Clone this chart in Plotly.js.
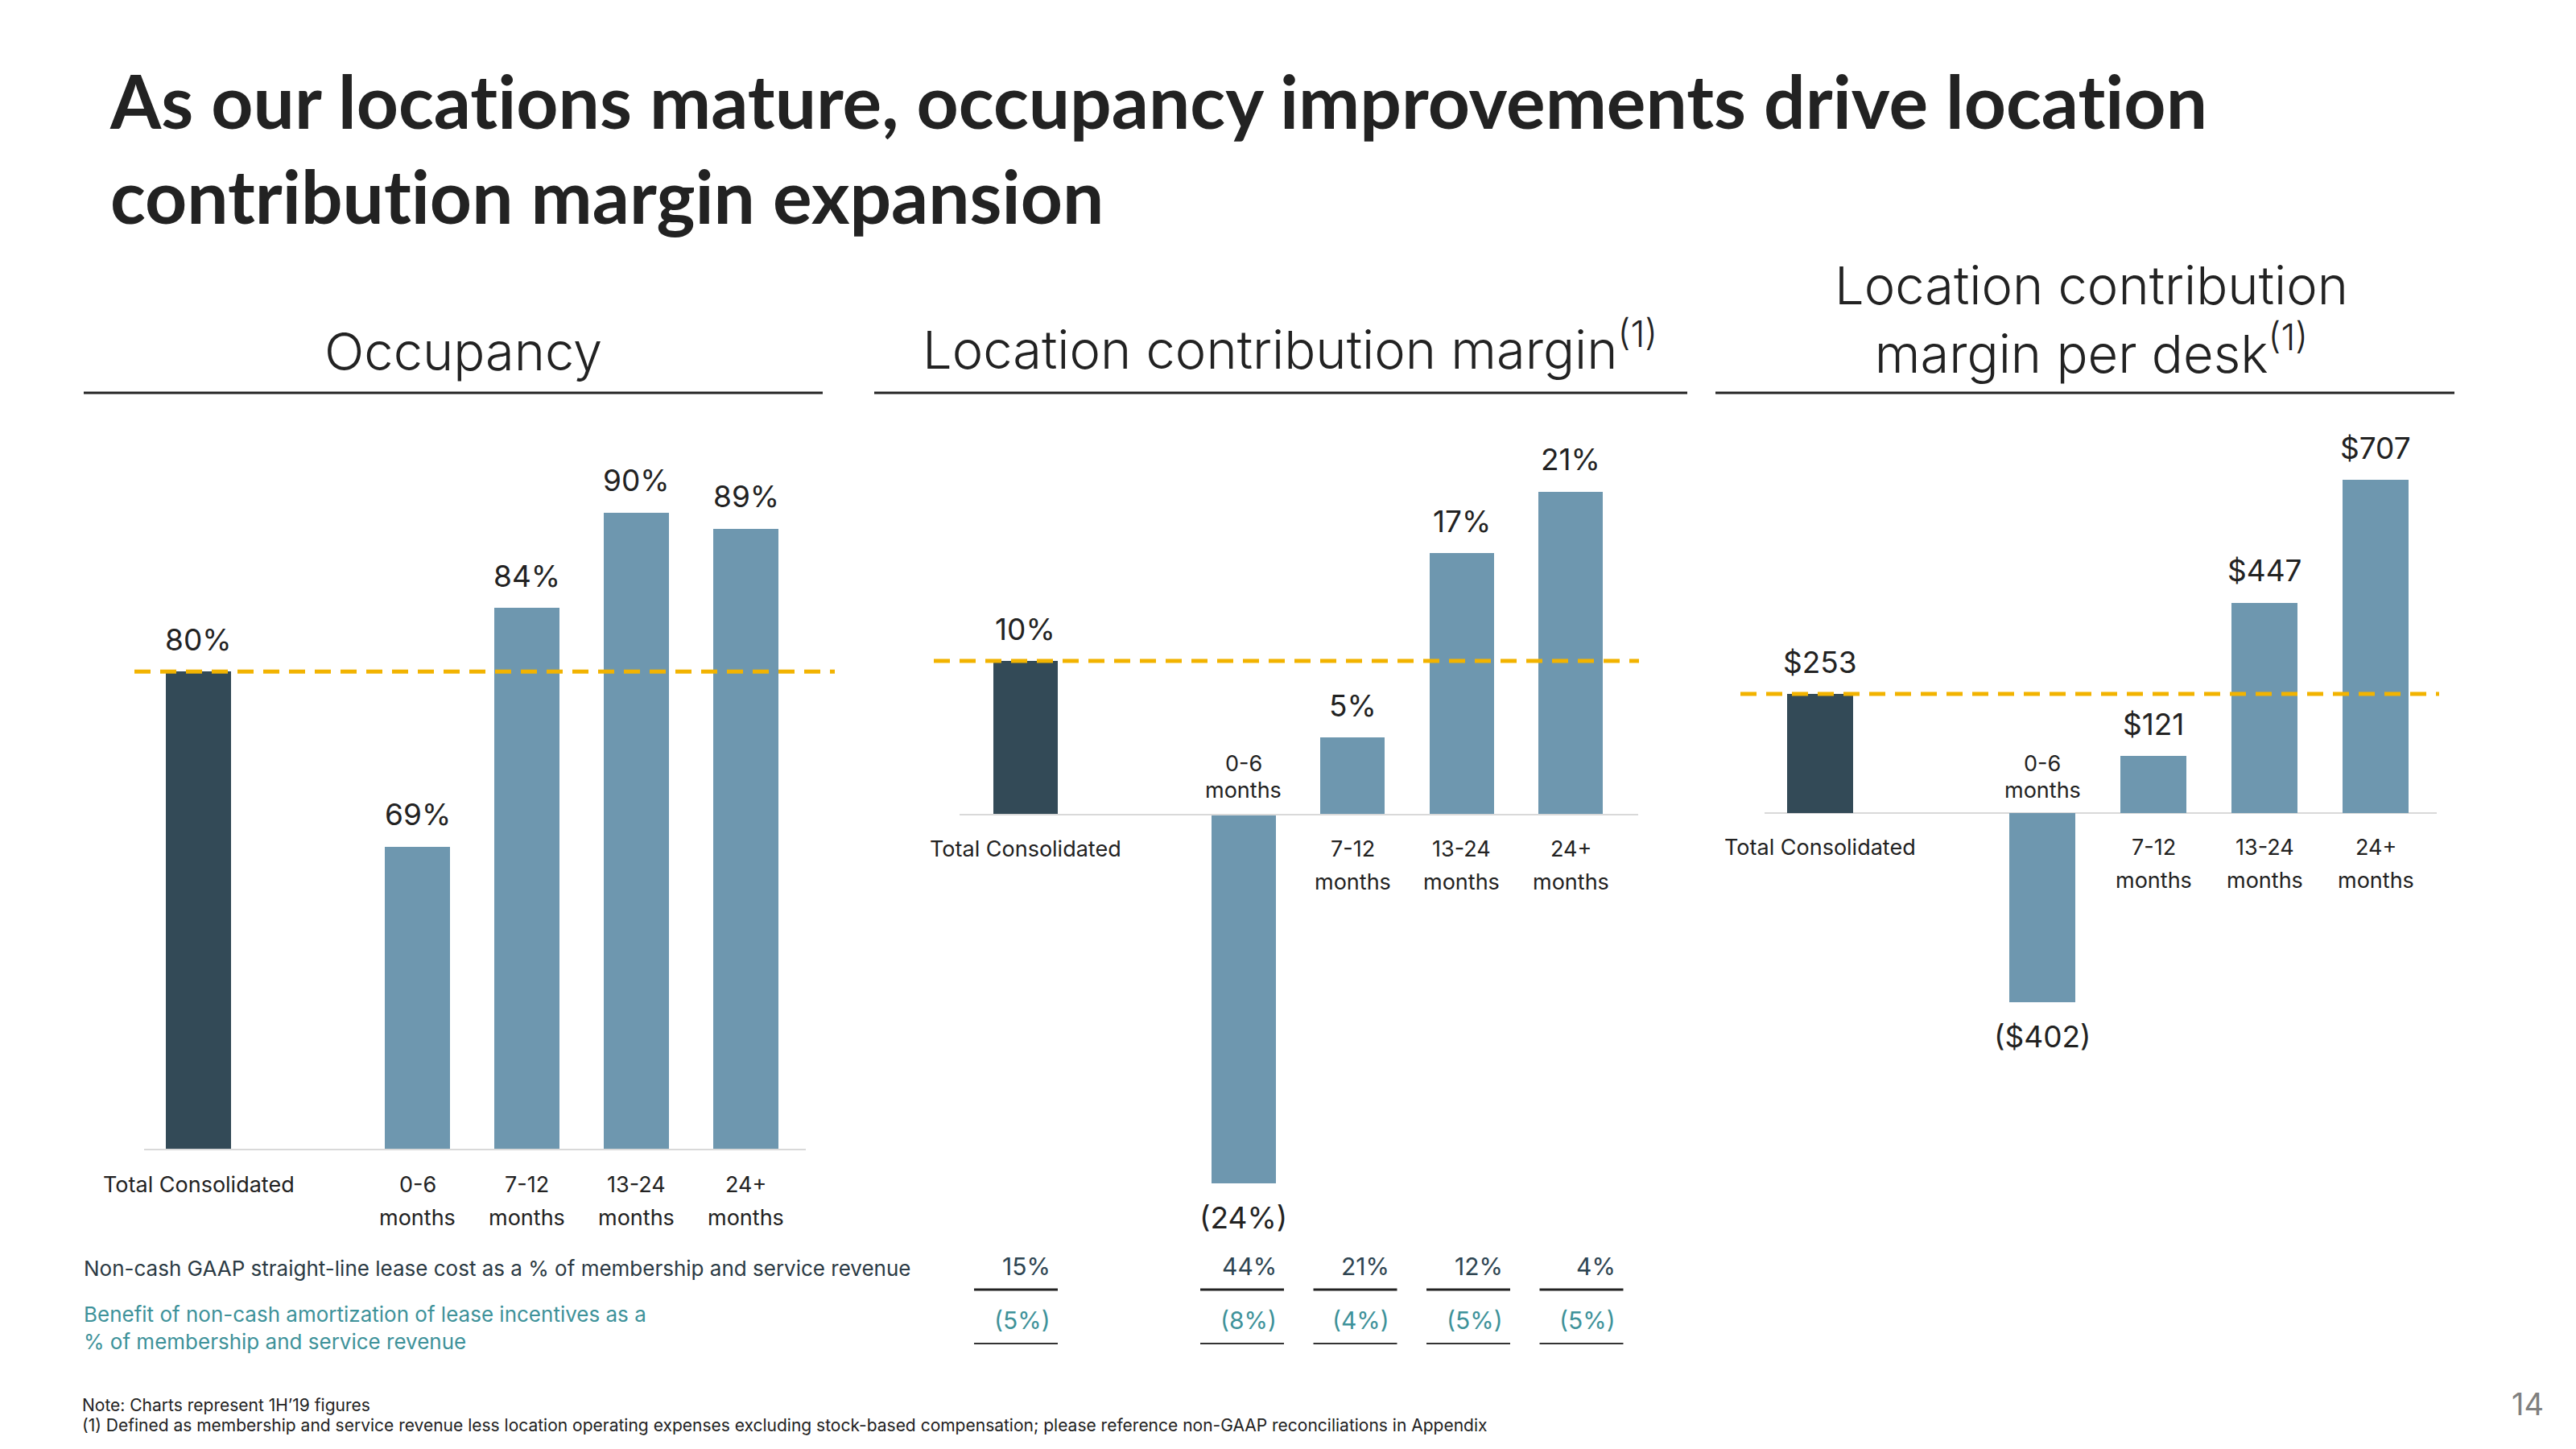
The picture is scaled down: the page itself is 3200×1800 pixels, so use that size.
<!DOCTYPE html>
<html><head><meta charset="utf-8">
<script src="https://cdn.plot.ly/plotly-3.0.1.min.js"></script>
<style>html,body{margin:0;padding:0;background:#fff}#chart{width:3200px;height:1800px}
svg text{font-variant-ligatures:none;font-feature-settings:"liga" 0,"clig" 0;}</style>
</head><body><div id="chart"></div>
<script>
// ---------------- data ----------------
const categories = ['Total Consolidated', '0-6 months', '7-12 months', '13-24 months', '24+ months'];
const tickLine1 = ['Total Consolidated', '0-6', '7-12', '13-24', '24+'];
const tickLine2 = ['', 'months', 'months', 'months', 'months'];
const occupancy = [80, 69, 84, 90, 89];            // %
const contributionMargin = [10, -24, 5, 17, 21];   // %
const marginPerDesk = [253, -402, 121, 447, 707];  // $
const leaseCostPct = [15, 44, 21, 12, 4];          // % of membership and service revenue
const leaseBenefitPct = [-5, -8, -4, -5, -5];      // %
const chartTitles = ['Occupancy', 'Location contribution margin<sup>(1)</sup>', 'Location contribution<br>margin per desk<sup>(1)</sup>'];
const mainTitle = 'As our locations mature, occupancy improvements drive location<br>contribution margin expansion';
const rowLabel1 = 'Non-cash GAAP straight-line lease cost as a % of membership and service revenue';
const rowLabel2 = 'Benefit of non-cash amortization of lease incentives as a<br>% of membership and service revenue';
const footNote1 = 'Note: Charts represent 1H\u201919 figures';
const footNote2 = '(1) Defined as membership and service revenue less location operating expenses excluding stock-based compensation; please reference non-GAAP reconciliations in Appendix';
const pageNumber = '14';

// ---------------- helpers ----------------
const W = 3200, H = 1800;
const fx = p => p / W, fy = p => 1 - p / H;
const slotPos = categories.map((c, i) => i === 0 ? 0 : i + 1);
const DARK = '#334A57', LIGHT = '#6E97AF', GOLD = '#F2B300', TEAL = '#3E929A', INK = '#222222';
const colors = categories.map((c, i) => i === 0 ? DARK : LIGHT);
const pct = v => v < 0 ? `(${Math.abs(v)}%)` : `${v}%`;
const usd = v => v < 0 ? `($${Math.abs(v)})` : `$${v}`;
const FONT = 'Inter, Lato, sans-serif';

function barTrace(vals, xa, ya) {
  return {type: 'bar', x: slotPos, y: vals, xaxis: xa, yaxis: ya, width: 0.59,
    marker: {color: colors, line: {width: 0}}, hoverinfo: 'skip', showlegend: false};
}
const data = [
  barTrace(occupancy, 'x', 'y'),
  barTrace(contributionMargin, 'x2', 'y2'),
  barTrace(marginPerDesk, 'x3', 'y3')
];

const ann = [];
function valueLabels(vals, fmt, xa, ya) {
  vals.forEach((v, i) => ann.push({xref: xa, yref: ya, x: slotPos[i], y: v, text: fmt(v), showarrow: false,
    yanchor: 'middle', yshift: v >= 0 ? 40 : -42, font: {family: FONT, size: 37, color: INK}}));
}
valueLabels(occupancy, pct, 'x', 'y');
valueLabels(contributionMargin, pct, 'x2', 'y2');
valueLabels(marginPerDesk, usd, 'x3', 'y3');

function tickLabels(vals, xa, ya, yval, down1, down2, up1, up2) {
  vals.forEach((v, i) => {
    const neg = v < 0;
    ann.push({xref: xa, yref: ya, x: slotPos[i], y: yval, text: tickLine1[i], showarrow: false, yanchor: 'middle',
      yshift: neg ? up1 : -down1, font: {family: FONT, size: 27, color: INK}});
    if (tickLine2[i]) ann.push({xref: xa, yref: ya, x: slotPos[i], y: yval, text: tickLine2[i], showarrow: false, yanchor: 'middle',
      yshift: neg ? up2 : -down2, font: {family: FONT, size: 27, color: INK}});
  });
}
tickLabels(occupancy, 'x', 'y domain', 0, 44, 85, 0, 0);
tickLabels(contributionMargin, 'x2', 'y2', 0, 42, 83, 64, 31);
tickLabels(marginPerDesk, 'x3', 'y3', 0, 42, 83, 62, 29);

// chart titles
const titlePos = [[575, 436], [1602, 430], [2598, 397]];
chartTitles.forEach((t, i) => ann.push({xref: 'paper', yref: 'paper', x: fx(titlePos[i][0]), y: fy(titlePos[i][1]),
  text: t, showarrow: false, xanchor: 'center', yanchor: 'middle', font: {family: FONT, size: 65, color: INK, weight: 300}}));

// table rows
ann.push({xref: 'paper', yref: 'paper', x: fx(102), y: fy(1575), text: rowLabel1, showarrow: false, xanchor: 'left', yanchor: 'middle',
  font: {family: FONT, size: 26, color: '#2B3A44'}});
ann.push({xref: 'paper', yref: 'paper', x: fx(102), y: fy(1649), text: rowLabel2, showarrow: false, xanchor: 'left', yanchor: 'middle', align: 'left',
  font: {family: FONT, size: 26, color: TEAL}});
leaseCostPct.forEach((v, i) => ann.push({xref: 'x4', yref: 'paper', x: slotPos[i] + 0.32, y: fy(1573), text: pct(v), showarrow: false,
  xanchor: 'right', yanchor: 'middle', font: {family: FONT, size: 30, color: '#2E4552'}}));
leaseBenefitPct.forEach((v, i) => ann.push({xref: 'x4', yref: 'paper', x: slotPos[i] + 0.32, y: fy(1640), text: pct(v), showarrow: false,
  xanchor: 'right', yanchor: 'middle', font: {family: FONT, size: 30, color: TEAL}}));

// main title & notes
ann.push({xref: 'paper', yref: 'paper', x: fx(134), y: fy(68), text: mainTitle, showarrow: false, xanchor: 'left', yanchor: 'top', align: 'left',
  font: {family: 'Lato, sans-serif', size: 91, color: INK, weight: 700}});
ann.push({xref: 'paper', yref: 'paper', x: fx(100), y: fy(1745), text: footNote1, showarrow: false, xanchor: 'left', yanchor: 'middle',
  font: {family: FONT, size: 21, color: INK}});
ann.push({xref: 'paper', yref: 'paper', x: fx(100), y: fy(1770), text: footNote2, showarrow: false, xanchor: 'left', yanchor: 'middle',
  font: {family: FONT, size: 21, color: INK}});
ann.push({xref: 'paper', yref: 'paper', x: fx(3140), y: fy(1744), text: pageNumber, showarrow: false, xanchor: 'center', yanchor: 'middle',
  font: {family: FONT, size: 38, color: '#808080'}});

// shapes
const shapes = [];
[[104, 1022], [1086, 2096], [2131, 3049]].forEach(r => shapes.push({type: 'line', xref: 'paper', yref: 'paper',
  x0: fx(r[0]), x1: fx(r[1]), y0: fy(488), y1: fy(488), line: {color: INK, width: 3}}));
const dash = {color: GOLD, width: 5, dash: '20px,12px'};
shapes.push({type: 'line', xref: 'paper', yref: 'y', x0: fx(167), x1: fx(1037), y0: occupancy[0], y1: occupancy[0], line: dash});
shapes.push({type: 'line', xref: 'paper', yref: 'y2', x0: fx(1160), x1: fx(2036), y0: contributionMargin[0], y1: contributionMargin[0], line: dash});
shapes.push({type: 'line', xref: 'paper', yref: 'y3', x0: fx(2162), x1: fx(3030), y0: marginPerDesk[0], y1: marginPerDesk[0], line: dash});
leaseCostPct.forEach((v, i) => shapes.push({type: 'line', xref: 'x4', yref: 'paper', x0: slotPos[i] - 0.37, x1: slotPos[i] + 0.37,
  y0: fy(1602), y1: fy(1602), line: {color: INK, width: 3}}));
leaseBenefitPct.forEach((v, i) => shapes.push({type: 'line', xref: 'x4', yref: 'paper', x0: slotPos[i] - 0.37, x1: slotPos[i] + 0.37,
  y0: fy(1669), y1: fy(1669), line: {color: '#333333', width: 2}}));

const hiddenX = {showgrid: false, zeroline: false, showticklabels: false, ticks: '', fixedrange: true};
const hiddenY = {showgrid: false, showticklabels: false, ticks: '', fixedrange: true};
const layout = {
  width: W, height: H, margin: {l: 0, r: 0, t: 0, b: 0}, paper_bgcolor: '#fff', plot_bgcolor: 'rgba(0,0,0,0)',
  font: {family: FONT, color: INK}, showlegend: false, bargap: 0,
  xaxis: Object.assign({}, hiddenX, {domain: [fx(178.5), fx(1001.3)], range: [-0.5, 5.55], anchor: 'y', showline: true, linecolor: '#D9D9D9', linewidth: 2}),
  yaxis: Object.assign({}, hiddenY, {domain: [fy(1427), fy(538)], range: [50, 95], anchor: 'x', zeroline: false}),
  xaxis2: Object.assign({}, hiddenX, {domain: [fx(1206), fx(2025.8)], range: [-0.5, 5.55], anchor: 'y2'}),
  yaxis2: Object.assign({}, hiddenY, {domain: [fy(1012 + 26 * 19.1), fy(1012 - 24 * 19.1)], range: [-26, 24], anchor: 'x2',
    zeroline: true, zerolinecolor: '#D9D9D9', zerolinewidth: 2}),
  xaxis3: Object.assign({}, hiddenX, {domain: [fx(2192), fx(2192 + 6.05 * 138)], range: [-0.5, 5.55], anchor: 'y3'}),
  yaxis3: Object.assign({}, hiddenY, {domain: [fy(1010 + 450 * 0.585), fy(1010 - 780 * 0.585)], range: [-450, 780], anchor: 'x3',
    zeroline: true, zerolinecolor: '#D9D9D9', zerolinewidth: 2}),
  xaxis4: Object.assign({}, hiddenX, {domain: [fx(1191.75), fx(2034.75)], range: [-0.5, 5.5], anchor: 'y2', visible: false}),
  annotations: ann, shapes: shapes
};
Plotly.newPlot('chart', data, layout, {staticPlot: true, displayModeBar: false});
</script></body></html>
